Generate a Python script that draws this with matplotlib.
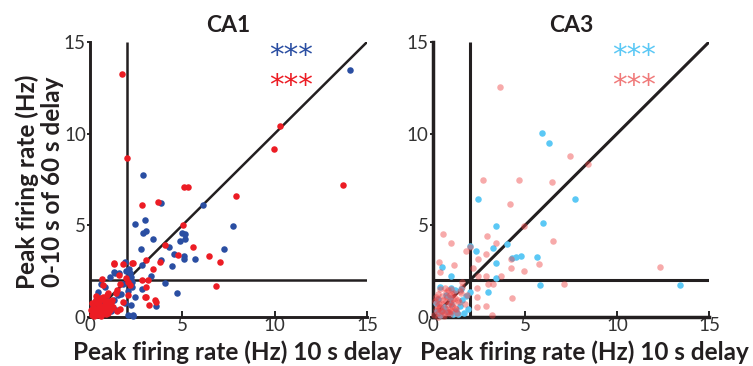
import matplotlib
matplotlib.use("Agg")
import matplotlib.pyplot as plt
import numpy as np

plt.rcParams['font.family'] = ['Lato', 'DejaVu Sans']

# ---- CA1 data (x = 10 s delay, y = 0-10 s of 60 s delay) ----
ca1_blue_x = [14.08, 2.89, 6.10, 3.84, 2.42, 2.99, 3.03, 2.85, 3.43, 2.74, 2.83,
              5.00, 5.16, 5.16, 4.87, 7.74, 7.24, 4.28, 4.57, 5.10, 5.10, 5.67,
              4.46, 3.84, 3.30, 4.08, 4.71, 3.56, 2.04, 2.35, 2.80, 1.90, 2.11,
              1.93, 2.17, 2.20, 2.00, 1.55, 1.35, 1.08, 0.60, 0.82, 0.45, 1.80,
              2.26, 2.44, 1.90, 2.20, 1.49, 1.30, 1.20, 0.95, 1.40, 2.35, 1.30,
              0.36, 0.30, 0.55, 0.75, 0.20, 0.65, 1.00, 1.15, 0.40, 0.85, 2.30,
              2.05, 1.70, 0.15, 0.50]
ca1_blue_y = [13.46, 7.75, 6.09, 6.22, 5.09, 5.29, 4.69, 4.58, 4.26, 3.69, 2.82,
              4.60, 4.55, 4.28, 4.16, 4.98, 3.69, 3.84, 3.44, 3.33, 3.16, 3.16,
              2.80, 3.13, 2.26, 1.84, 1.31, 0.58, 0.10, 0.10, 1.50, 3.02, 2.62,
              2.53, 2.38, 2.20, 2.10, 2.38, 2.38, 2.16, 1.80, 1.66, 1.36, 1.80,
              1.65, 1.07, 0.75, 0.65, 1.20, 0.93, 0.57, 0.40, 0.40, 0.07, 2.44,
              1.16, 0.90, 0.70, 0.55, 0.35, 0.20, 0.85, 0.30, 0.60, 1.00, 1.90,
              1.40, 1.25, 0.60, 0.25]

ca1_red_x = [1.71, 2.00, 10.30, 9.94, 13.70, 5.10, 5.32, 7.90, 2.83, 3.66, 5.05,
             4.08, 5.59, 4.75, 6.44, 7.04, 6.84, 3.03, 2.31, 3.79, 3.43, 1.30,
             1.80, 2.80, 3.16, 3.03, 3.00, 3.57, 3.19, 0.67, 0.70, 1.59, 2.17,
             2.26, 1.32, 0.96, 1.40, 1.45, 2.04, 1.95, 1.64, 3.03, 3.52, 1.78,
             0.10, 0.20, 0.30, 0.40, 0.50, 0.60, 0.70, 0.80, 0.90, 1.00, 1.10,
             1.20, 0.15, 0.25, 0.35, 0.45, 0.55, 0.65, 0.75, 0.85, 0.95, 1.05,
             0.05, 0.20, 0.40, 0.60, 0.80, 1.00, 1.25, 0.30, 0.50, 0.70, 0.90,
             1.15, 1.45, 0.10, 0.35, 0.55, 0.25, 0.45, 0.65, 2.05, 1.60]
ca1_red_y = [13.26, 8.70, 10.40, 9.15, 7.22, 7.11, 7.11, 6.62, 6.09, 6.27, 5.00,
             3.91, 3.84, 3.40, 3.35, 2.98, 1.71, 3.11, 2.96, 3.02, 2.60, 2.90,
             2.90, 2.02, 2.02, 1.65, 1.10, 0.84, 0.65, 2.06, 1.75, 2.27, 1.75,
             2.92, 2.92, 1.33, 1.33, 1.48, 1.93, 2.11, 1.82, 1.11, 0.93, 0.84,
             0.10, 0.30, 0.15, 0.45, 0.25, 0.60, 0.35, 0.70, 0.50, 0.85, 0.40,
             0.95, 0.55, 0.80, 0.95, 0.70, 1.05, 0.20, 0.90, 0.15, 0.30, 0.65,
             0.40, 0.05, 0.10, 0.05, 0.50, 0.20, 0.55, 1.15, 0.85, 1.10, 1.20,
             0.75, 0.30, 0.75, 0.40, 0.60, 0.25, 1.00, 0.50, 1.20, 0.45]

# ---- CA3 data ----
ca3_blue_x = [5.94, 6.30, 7.73, 2.43, 5.96, 3.42, 4.04, 3.28, 2.32, 2.00, 3.44,
              4.53, 4.80, 4.30, 5.67, 3.42, 5.80, 13.45, 0.49, 0.98, 2.99, 2.00,
              0.36, 0.98, 1.20, 1.50, 1.90, 1.36, 0.20, 0.40, 0.60, 0.80, 1.00,
              1.60, 1.80, 0.30, 0.70, 1.10, 1.45, 0.15, 0.55, 0.90, 1.25, 1.70]
ca3_blue_y = [10.04, 9.50, 6.45, 6.45, 5.14, 4.98, 3.97, 3.75, 3.62, 3.85, 2.97,
              3.28, 3.30, 3.20, 3.25, 2.10, 1.72, 1.72, 2.72, 2.24, 1.36, 1.37,
              1.66, 1.60, 1.45, 1.55, 0.45, 0.17, 0.30, 0.10, 0.55, 0.25, 0.70,
              0.90, 1.15, 1.00, 1.20, 0.15, 0.60, 0.75, 0.40, 1.05, 0.35, 0.20]

ca3_pink_x = [3.64, 7.43, 8.44, 2.70, 4.66, 6.47, 4.20, 4.93, 6.54, 2.93, 3.44,
              0.53, 0.98, 1.78, 2.00, 2.86, 2.43, 4.24, 5.76, 4.24, 4.96, 12.32,
              0.31, 1.16, 0.40, 2.16, 2.46, 2.86, 3.70, 7.12, 3.00, 3.25, 2.40,
              2.40, 4.29, 2.40, 2.88, 3.22, 1.60, 1.85,
              0.05, 0.15, 0.25, 0.35, 0.45, 0.55, 0.65, 0.75, 0.85, 0.95, 1.05,
              1.15, 1.25, 1.35, 1.45, 0.10, 0.20, 0.30, 0.40, 0.50, 0.60, 0.70,
              0.80, 0.90, 1.00, 1.10, 1.20, 1.30, 0.20, 0.40, 0.60, 0.80, 1.00,
              1.20, 1.40, 1.60, 0.30, 0.50, 0.70, 0.90, 1.10, 0.15, 0.45, 0.75,
              1.05, 1.50, 1.75, 0.35, 0.65, 0.95]
ca3_pink_y = [12.54, 8.77, 8.37, 7.46, 7.46, 7.36, 6.16, 4.96, 4.13, 4.42, 4.04,
              4.53, 4.04, 3.62, 3.84, 3.42, 3.17, 3.17, 2.88, 2.68, 2.52, 2.75,
              3.02, 2.83, 2.43, 2.68, 2.25, 2.22, 2.22, 1.79, 1.78, 1.78, 1.60,
              1.10, 1.02, 0.55, 0.58, 0.10, 1.90, 1.20,
              0.10, 0.40, 0.20, 0.70, 0.30, 0.90, 0.50, 1.10, 0.25, 0.80, 0.60,
              1.30, 0.45, 0.95, 1.40, 0.85, 1.00, 1.25, 0.55, 1.15, 0.15, 1.35,
              0.65, 1.20, 0.35, 0.75, 1.05, 0.20, 0.60, 1.50, 0.05, 1.45, 1.55,
              0.50, 0.80, 1.65, 0.00, 0.35, 0.85, 0.45, 1.00, 1.10, 0.75, 0.25,
              1.25, 1.30, 0.70, 0.50, 1.60, 0.15]

ticks = [0, 5, 10, 15]
threshold = 2
line_col = '#231f20'


def draw_panel(ax, first_x, first_y, second_x, second_y, c1, c2, a2, title,
               star1, star2, lw, xlab_pos):
    ax.plot([threshold, threshold], [0, 15], color=line_col, lw=lw, zorder=2,
            solid_capstyle='butt')
    ax.plot([0, 15], [threshold, threshold], color=line_col, lw=lw, zorder=2,
            solid_capstyle='butt')
    ax.plot([0, 15], [0, 15], color=line_col, lw=lw, zorder=2,
            solid_capstyle='butt')
    ax.scatter(first_x, first_y, s=22, color=c1, lw=0, zorder=3, clip_on=False)
    ax.scatter(second_x, second_y, s=22, color=c2, alpha=a2, lw=0, zorder=4,
               clip_on=False)
    ax.set_xlim(0, 15)
    ax.set_ylim(0, 15)
    for s in ['top', 'right']:
        ax.spines[s].set_visible(False)
    for s in ['left', 'bottom']:
        ax.spines[s].set_linewidth(lw + 0.3)
        ax.spines[s].set_color(line_col)
    ax.set_xticks(ticks)
    ax.set_yticks(ticks)
    ax.tick_params(axis='x', direction='in', length=4, width=1.2, pad=0,
                   labelsize=13.5, labelcolor='#333333')
    ax.tick_params(axis='y', direction='out', length=2, width=1.2, pad=1,
                   labelsize=13.5, labelcolor='#333333')
    ax.set_title(title, fontsize=16.5, fontweight='bold', color='#231f20', pad=7)
    ax.text(10.9, 14.25, '***', color=star1, fontsize=21, ha='center', va='center',
            family='DejaVu Sans')
    ax.text(10.9, 12.6, '***', color=star2, fontsize=21, ha='center', va='center',
            family='DejaVu Sans')
    fig.text(xlab_pos, 0.017, 'Peak firing rate (Hz) 10 s delay', fontsize=17.5,
             fontweight='bold', color='#231f20', ha='center', va='baseline')


fig = plt.figure(figsize=(7.53, 3.66), dpi=100)
ax1 = fig.add_axes([0.1195, 0.1339, 0.3679, 0.7513])
ax2 = fig.add_axes([0.575, 0.1339, 0.3666, 0.7513])

draw_panel(ax1, ca1_blue_x, ca1_blue_y, ca1_red_x, ca1_red_y,
           '#2a4ea2', '#ec1c24', 1.0, 'CA1', '#2a4ea2', '#ec1c24', 1.8, 237 / 753)
draw_panel(ax2, ca3_blue_x, ca3_blue_y, ca3_pink_x, ca3_pink_y,
           '#5bc8f5', '#ee4444', 0.45, 'CA3', '#5bc8f5', '#f07a7a', 2.2, 584 / 753)

fig.text(0.053, 0.503, 'Peak firing rate (Hz)\n0-10 s of 60 s delay', rotation=90,
         ha='center', va='center', fontsize=17.5, fontweight='bold',
         color='#231f20', linespacing=1.1)

fig.savefig('out.png', dpi=100)
